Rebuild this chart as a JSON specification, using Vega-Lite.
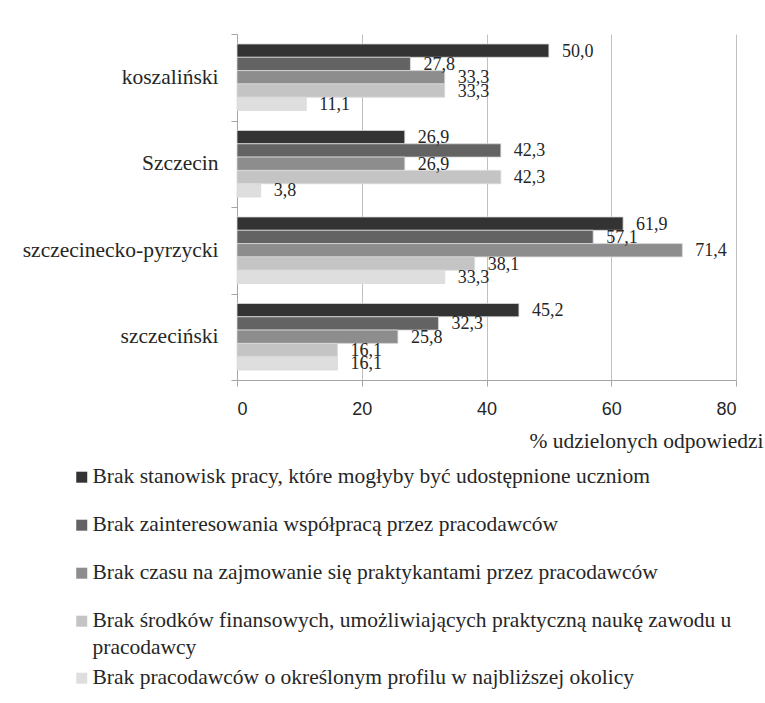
{
  "$schema": "https://vega.github.io/schema/vega-lite/v6.json",
  "width": 499,
  "height": 346,
  "autosize": {"type": "none"},
  "padding": {"left": 237, "top": 34, "right": 29, "bottom": 323},
  "background": "white",
  "config": {
    "view": {"stroke": null},
    "style": {"guide-label": {"lineHeight": 27}},
    "locale": {"number": {"decimal": ",", "thousands": " ", "grouping": [3], "currency": ["", " zł"]}}
  },
  "data": {
    "values": [
      {"region": "koszaliński", "cause": "Brak stanowisk pracy, które mogłyby być udostępnione uczniom", "value": 50.0},
      {"region": "koszaliński", "cause": "Brak zainteresowania współpracą przez pracodawców", "value": 27.8},
      {"region": "koszaliński", "cause": "Brak czasu na zajmowanie się praktykantami przez pracodawców", "value": 33.3},
      {"region": "koszaliński", "cause": "Brak środków finansowych, umożliwiających praktyczną naukę zawodu u|pracodawcy", "value": 33.3},
      {"region": "koszaliński", "cause": "Brak pracodawców o określonym profilu w najbliższej okolicy", "value": 11.1},
      {"region": "Szczecin", "cause": "Brak stanowisk pracy, które mogłyby być udostępnione uczniom", "value": 26.9},
      {"region": "Szczecin", "cause": "Brak zainteresowania współpracą przez pracodawców", "value": 42.3},
      {"region": "Szczecin", "cause": "Brak czasu na zajmowanie się praktykantami przez pracodawców", "value": 26.9},
      {"region": "Szczecin", "cause": "Brak środków finansowych, umożliwiających praktyczną naukę zawodu u|pracodawcy", "value": 42.3},
      {"region": "Szczecin", "cause": "Brak pracodawców o określonym profilu w najbliższej okolicy", "value": 3.8},
      {"region": "szczecinecko-pyrzycki", "cause": "Brak stanowisk pracy, które mogłyby być udostępnione uczniom", "value": 61.9},
      {"region": "szczecinecko-pyrzycki", "cause": "Brak zainteresowania współpracą przez pracodawców", "value": 57.1},
      {"region": "szczecinecko-pyrzycki", "cause": "Brak czasu na zajmowanie się praktykantami przez pracodawców", "value": 71.4},
      {"region": "szczecinecko-pyrzycki", "cause": "Brak środków finansowych, umożliwiających praktyczną naukę zawodu u|pracodawcy", "value": 38.1},
      {"region": "szczecinecko-pyrzycki", "cause": "Brak pracodawców o określonym profilu w najbliższej okolicy", "value": 33.3},
      {"region": "szczeciński", "cause": "Brak stanowisk pracy, które mogłyby być udostępnione uczniom", "value": 45.2},
      {"region": "szczeciński", "cause": "Brak zainteresowania współpracą przez pracodawców", "value": 32.3},
      {"region": "szczeciński", "cause": "Brak czasu na zajmowanie się praktykantami przez pracodawców", "value": 25.8},
      {"region": "szczeciński", "cause": "Brak środków finansowych, umożliwiających praktyczną naukę zawodu u|pracodawcy", "value": 16.1},
      {"region": "szczeciński", "cause": "Brak pracodawców o określonym profilu w najbliższej okolicy", "value": 16.1}
    ]
  },
  "encoding": {
    "y": {
      "field": "region", "type": "nominal",
      "sort": ["koszaliński", "Szczecin", "szczecinecko-pyrzycki", "szczeciński"],
      "scale": {"paddingInner": 0, "paddingOuter": 0},
      "axis": {
        "title": null, "tickBand": "extent", "tickSize": 6, "tickColor": "#a6a6a6",
        "domainColor": "#a6a6a6", "labelFont": "Liberation Serif, DejaVu Serif, serif", "labelFontSize": 21.5,
        "labelColor": "#262626", "labelPadding": 13, "labelLimit": 300
      }
    },
    "yOffset": {
      "field": "cause", "type": "nominal",
      "scale": {
        "domain": [
          "Brak stanowisk pracy, które mogłyby być udostępnione uczniom",
          "Brak zainteresowania współpracą przez pracodawców",
          "Brak czasu na zajmowanie się praktykantami przez pracodawców",
          "Brak środków finansowych, umożliwiających praktyczną naukę zawodu u|pracodawcy",
          "Brak pracodawców o określonym profilu w najbliższej okolicy"
        ],
        "paddingInner": 0, "paddingOuter": 0.75
      }
    },
    "x": {
      "field": "value", "type": "quantitative",
      "scale": {"domain": [0, 80], "nice": false},
      "axis": {
        "values": [0, 20, 40, 60, 80], "grid": true, "gridColor": "#c0c0c0",
        "domainColor": "#a6a6a6", "tickColor": "#a6a6a6", "tickSize": 6,
        "labelFont": "Liberation Sans", "labelFontSize": 18, "labelColor": "#262626",
        "labelPadding": 14,
        "title": "% udzielonych odpowiedzi", "titleFont": "Liberation Serif, DejaVu Serif, serif",
        "titleFontSize": 21.5, "titleFontWeight": "normal", "titleColor": "#262626",
        "titleAnchor": "end", "titleAlign": "right", "titleBaseline": "middle",
        "titleX": 526, "titleY": 61
      }
    }
  },
  "layer": [
    {
      "transform": [{"filter": "datum.cause != 'Brak pracodawców o określonym profilu w najbliższej okolicy'"}],
      "mark": {"type": "bar", "stroke": "#d9d9d9", "strokeWidth": 0.8},
      "encoding": {
        "color": {
          "field": "cause", "type": "nominal",
          "scale": {
            "domain": [
              "Brak stanowisk pracy, które mogłyby być udostępnione uczniom",
              "Brak zainteresowania współpracą przez pracodawców",
              "Brak czasu na zajmowanie się praktykantami przez pracodawców",
              "Brak środków finansowych, umożliwiających praktyczną naukę zawodu u|pracodawcy"
            ],
            "range": ["#333333", "#636363", "#8d8d8d", "#c4c4c4"]
          },
          "legend": {
            "orient": "none", "legendX": -166, "legendY": 438.5, "direction": "vertical",
            "title": null, "symbolType": "M-1,-2.1H1V-0.1H-1Z", "symbolSize": 121, "symbolStrokeWidth": 0,
            "labelFont": "Liberation Serif, DejaVu Serif, serif", "labelFontSize": 21.5, "labelColor": "#262626",
            "labelOffset": 0, "rowPadding": 25, "labelLimit": 800, "labelBaseline": "alphabetic",
            "labelExpr": "split(datum.label, '|')"
          }
        }
      }
    },
    {
      "transform": [{"filter": "datum.cause == 'Brak pracodawców o określonym profilu w najbliższej okolicy'"}],
      "mark": {"type": "bar", "stroke": "#d9d9d9", "strokeWidth": 0.8},
      "encoding": {
        "color": {
          "field": "cause", "type": "nominal",
          "scale": {
            "domain": ["Brak pracodawców o określonym profilu w najbliższej okolicy"],
            "range": ["#dedede"]
          },
          "legend": {
            "orient": "none", "legendX": -166, "legendY": 639.5, "direction": "vertical",
            "title": null, "symbolType": "M-1,-2.1H1V-0.1H-1Z", "symbolSize": 121, "symbolStrokeWidth": 0,
            "labelFont": "Liberation Serif, DejaVu Serif, serif", "labelFontSize": 21.5, "labelColor": "#262626",
            "labelOffset": 0, "labelLimit": 800, "labelBaseline": "alphabetic"
          }
        }
      }
    },
    {
      "mark": {"type": "text", "align": "left", "baseline": "middle", "dx": 13, "dy": 1,
               "font": "Liberation Serif, DejaVu Serif, serif", "fontSize": 18, "color": "#262626"},
      "encoding": {"text": {"field": "value", "type": "quantitative", "format": ".1f"}}
    }
  ],
  "resolve": {"scale": {"color": "independent"}, "legend": {"color": "independent"}}
}
